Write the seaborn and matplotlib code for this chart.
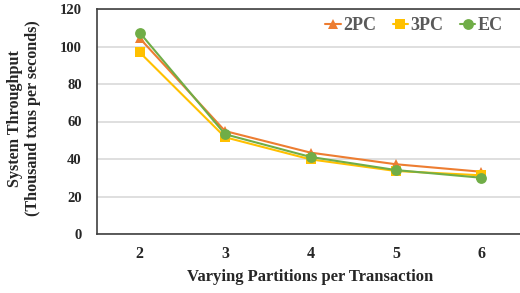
import matplotlib
matplotlib.use("Agg")
import matplotlib.pyplot as plt
import seaborn as sns
import pandas as pd

partitions = [2, 3, 4, 5, 6]
tput_2pc = [104.4, 54.9, 43.4, 37.2, 33.2]
tput_3pc = [96.9, 51.6, 39.8, 33.6, 31.3]
tput_ec = [107.4, 53.2, 41.1, 34.1, 30.0]
series_names = ["2PC", "3PC", "EC"]
y_ticks = [0, 20, 40, 60, 80, 100, 120]

sns.set_theme(style="white")
plt.rcParams['font.family'] = ['Liberation Serif', 'DejaVu Serif']

df = pd.DataFrame({
    "Partitions": partitions * 3,
    "Throughput": tput_2pc + tput_3pc + tput_ec,
    "Protocol": [series_names[0]] * 5 + [series_names[1]] * 5 + [series_names[2]] * 5,
})

colors = {"2PC": "#ED7D31", "3PC": "#FFC000", "EC": "#70AD47"}
markers = {"2PC": "^", "3PC": "s", "EC": "o"}

fig = plt.figure(figsize=(5.2, 2.93), dpi=100)
ax = fig.add_axes([97 / 520, 1 - 234 / 293, (524 - 97) / 520, (234 - 9) / 293])

sns.lineplot(data=df, x="Partitions", y="Throughput", hue="Protocol", style="Protocol",
             palette=colors, markers=markers, dashes=False, markersize=7.8,
             markeredgewidth=0, linewidth=1.5, ax=ax, legend=True)

ax.set_xlim(1.5, 6.5)
ax.set_ylim(0, 120)
ax.set_yticks(y_ticks)
ax.set_xticks(partitions)
ax.grid(axis="y", color="#D9D9D9", linewidth=1.2)
ax.set_axisbelow(True)
for s in ax.spines.values():
    s.set_color("#404040")
    s.set_linewidth(1.2)
ax.tick_params(axis="x", length=0, labelsize=11.5, pad=9)
ax.tick_params(axis="y", length=0, labelsize=10.5, pad=11)
for lbl in ax.get_xticklabels() + ax.get_yticklabels():
    lbl.set_fontweight("bold")
ax.set_xlabel("Varying Partitions per Transaction", fontsize=12, fontweight="bold", labelpad=5)
ax.set_ylabel("")

fig.text(15 / 520, 1 - 119 / 293, "System Throughput", rotation=90, ha="center", va="center",
         fontsize=11.6, fontweight="bold")
fig.text(33 / 520, 1 - 118.5 / 293, "(Thousand txns per seconds)", rotation=90, ha="center", va="center",
         fontsize=11.6, fontweight="bold")

leg = ax.legend(loc="center right", bbox_to_anchor=(0.951, 1 - 17 / 225), ncol=3, frameon=False,
                handlelength=0.85, handletextpad=0.15, columnspacing=0.9,
                borderpad=0, borderaxespad=0,
                prop={"weight": "bold", "size": 13})
for t in leg.get_texts():
    t.set_color("#595959")

fig.savefig("out.png", dpi=100)
